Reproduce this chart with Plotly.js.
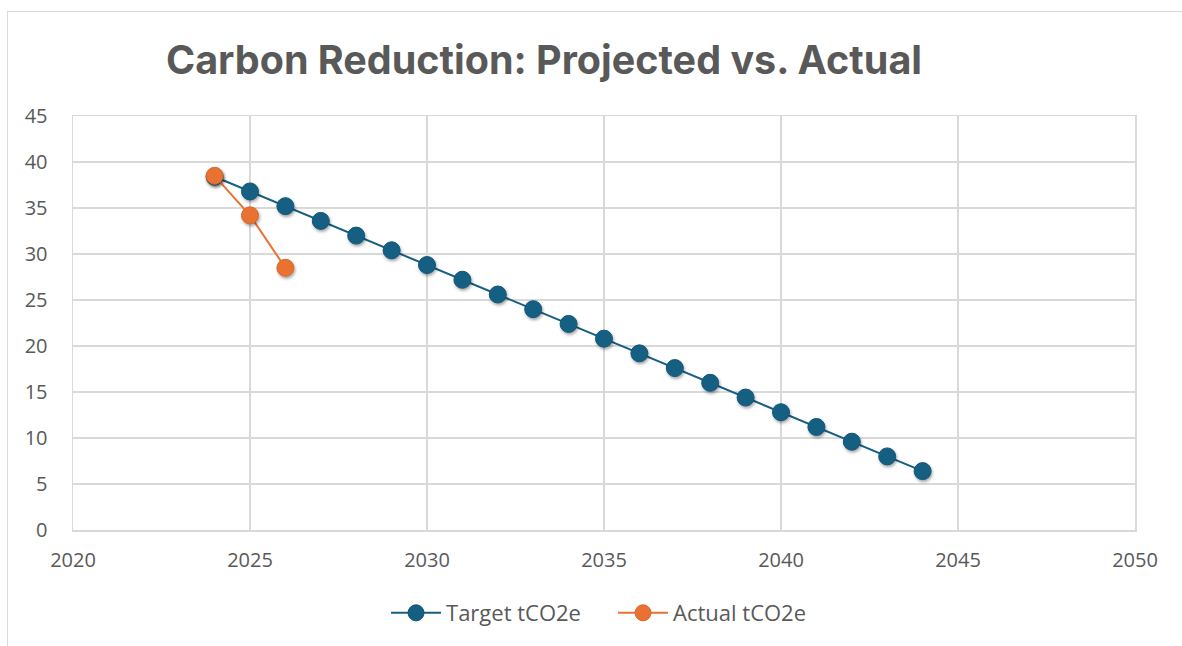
<!DOCTYPE html>
<html>
<head>
<meta charset="utf-8">
<script src="https://cdn.plot.ly/plotly-3.0.1.min.js"></script>
<style>
  html, body { margin: 0; padding: 0; width: 1182px; height: 646px; overflow: hidden; background: #fff; }
  #chart { position: absolute; left: 0; top: 0; width: 1182px; height: 646px; }
  #frame { position: absolute; left: 7px; top: 11px; width: 1300px; height: 800px;
           border-left: 1px solid #d9d9d9; border-top: 1px solid #d9d9d9; pointer-events: none; }
  #chart .scatterlayer .points path { filter: drop-shadow(1px 2px 1.5px rgba(0,0,0,0.35)); }
</style>
</head>
<body>
<div id="chart"></div>
<div id="frame"></div>
<script>
const targetYears = [2024, 2025, 2026, 2027, 2028, 2029, 2030, 2031, 2032, 2033, 2034,
                     2035, 2036, 2037, 2038, 2039, 2040, 2041, 2042, 2043, 2044];
const targetValues = [38.4, 36.8, 35.2, 33.6, 32.0, 30.4, 28.8, 27.2, 25.6, 24.0, 22.4,
                      20.8, 19.2, 17.6, 16.0, 14.4, 12.8, 11.2, 9.6, 8.0, 6.4];
const actualYears = [2024, 2025, 2026];
const actualValues = [38.5, 34.2, 28.5];
const xTicks = [2020, 2025, 2030, 2035, 2040, 2045, 2050];
const yTicks = [0, 5, 10, 15, 20, 25, 30, 35, 40, 45];

const FONT = 'Open Sans, Liberation Sans, sans-serif';
const GRID = '#d9d9d9';
const TEXT = '#595959';

const traces = [
  {
    x: targetYears, y: targetValues, type: 'scatter', mode: 'lines+markers',
    name: 'Target tCO2e',
    line: { color: '#156082', width: 2 },
    marker: { color: '#156082', size: 17, line: { color: '#12567a', width: 1 } }
  },
  {
    x: actualYears, y: actualValues, type: 'scatter', mode: 'lines+markers',
    name: 'Actual tCO2e',
    line: { color: '#E97132', width: 2 },
    marker: { color: '#E97132', size: 17, line: { color: '#d9682d', width: 1 } }
  }
];

const layout = {
  width: 1182, height: 646,
  margin: { l: 73, r: 47, t: 116, b: 116, autoexpand: false },
  paper_bgcolor: '#ffffff', plot_bgcolor: '#ffffff',
  font: { family: FONT, color: TEXT, size: 20 },
  title: {
    text: '<b>Carbon Reduction: Projected vs. Actual</b>',
    font: { family: 'Inter, Open Sans, sans-serif', size: 39.5, color: TEXT },
    xref: 'container', x: 544 / 1182, xanchor: 'center',
    yref: 'container', y: 1 - 60 / 646, yanchor: 'middle'
  },
  xaxis: {
    range: [2020, 2050], tickmode: 'array', tickvals: xTicks, ticktext: xTicks.map(String),
    showgrid: true, gridcolor: GRID, gridwidth: 1.5,
    zeroline: false, showline: true, mirror: true, linecolor: GRID, linewidth: 1.5,
    ticks: '', ticklabelstandoff: 11,
    tickfont: { family: FONT, size: 20, color: TEXT }
  },
  yaxis: {
    range: [0, 45], tickmode: 'array', tickvals: yTicks, ticktext: yTicks.map(String),
    showgrid: true, gridcolor: GRID, gridwidth: 1.5,
    zeroline: false, showline: true, mirror: true, linecolor: GRID, linewidth: 1.5,
    ticks: '', ticklabelstandoff: 20,
    tickfont: { family: FONT, size: 20, color: TEXT }
  },
  showlegend: true,
  legend: {
    orientation: 'h', x: 0.5085, xanchor: 'center',
    y: -83 / 414, yanchor: 'middle',
    font: { family: FONT, size: 22, color: TEXT },
    itemwidth: 50, entrywidth: 162, entrywidthmode: 'pixels',
    tracegroupgap: 0, bgcolor: 'rgba(0,0,0,0)'
  }
};

Plotly.newPlot('chart', traces, layout, { displayModeBar: false, staticPlot: true });
</script>
</body>
</html>
